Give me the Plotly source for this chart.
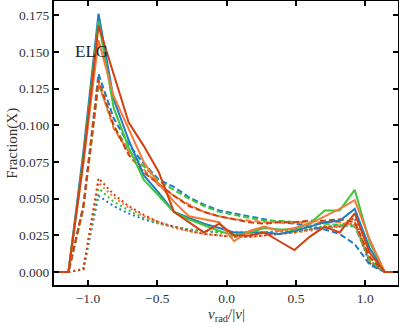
import plotly.graph_objects as go

# bin centres of v_rad/|v|
vr = [-1.25, -1.141, -1.033, -0.924, -0.815, -0.707, -0.598, -0.489, -0.380, -0.272, -0.163, -0.054,
      0.054, 0.163, 0.272, 0.380, 0.489, 0.598, 0.707, 0.815, 0.924, 1.033, 1.141, 1.25]

# solid lines
blue_solid = [0, 0, 0.082, 0.176, 0.118, 0.090, 0.066, 0.054, 0.041, 0.037, 0.033, 0.030,
              0.027, 0.027, 0.027, 0.026, 0.028, 0.031, 0.034, 0.035, 0.043, 0.016, 0, 0]
green_solid = [0, 0, 0.078, 0.171, 0.112, 0.085, 0.063, 0.052, 0.041, 0.036, 0.032, 0.028,
               0.025, 0.027, 0.030, 0.029, 0.029, 0.033, 0.042, 0.042, 0.056, 0.020, 0, 0]
orange_solid = [0, 0, 0.074, 0.158, 0.120, 0.097, 0.075, 0.060, 0.048, 0.038, 0.036, 0.034,
                0.021, 0.028, 0.031, 0.028, 0.030, 0.033, 0.038, 0.043, 0.049, 0.022, 0, 0]
red_solid = [0, 0, 0.076, 0.168, 0.135, 0.102, 0.086, 0.068, 0.041, 0.034, 0.027, 0.033,
             0.025, 0.025, 0.027, 0.021, 0.015, 0.024, 0.031, 0.027, 0.040, 0.013, 0, 0]

# dashed lines
blue_dash = [0, 0, 0.045, 0.135, 0.105, 0.087, 0.074, 0.063, 0.058, 0.051, 0.046, 0.042,
             0.040, 0.038, 0.036, 0.034, 0.033, 0.031, 0.029, 0.026, 0.019, 0.005, 0, 0]
green_dash = [0, 0, 0.043, 0.128, 0.100, 0.083, 0.072, 0.062, 0.056, 0.050, 0.045, 0.041,
              0.039, 0.037, 0.035, 0.035, 0.034, 0.033, 0.033, 0.032, 0.031, 0.008, 0, 0]
orange_dash = [0, 0, 0.044, 0.129, 0.098, 0.082, 0.070, 0.059, 0.052, 0.046, 0.041, 0.038,
               0.036, 0.035, 0.034, 0.034, 0.034, 0.034, 0.034, 0.034, 0.032, 0.010, 0, 0]
red_dash = [0, 0, 0.045, 0.131, 0.100, 0.080, 0.068, 0.060, 0.052, 0.045, 0.041, 0.038,
            0.036, 0.034, 0.033, 0.034, 0.034, 0.035, 0.035, 0.036, 0.034, 0.010, 0, 0]

# dotted lines
blue_dot = [0, 0, 0.002, 0.052, 0.045, 0.040, 0.036, 0.033, 0.031, 0.029, 0.028, 0.027,
            0.027, 0.027, 0.027, 0.028, 0.028, 0.029, 0.030, 0.031, 0.032, 0.006, 0, 0]
green_dot = [0, 0, 0.002, 0.057, 0.048, 0.042, 0.037, 0.033, 0.031, 0.029, 0.028, 0.027,
             0.027, 0.027, 0.027, 0.028, 0.028, 0.030, 0.031, 0.032, 0.033, 0.007, 0, 0]
orange_dot = [0, 0, 0.002, 0.061, 0.051, 0.044, 0.038, 0.034, 0.030, 0.028, 0.026, 0.025,
              0.024, 0.024, 0.025, 0.026, 0.027, 0.028, 0.030, 0.031, 0.034, 0.007, 0, 0]
red_dot = [0, 0, 0.002, 0.064, 0.053, 0.045, 0.039, 0.034, 0.031, 0.028, 0.026, 0.025,
           0.024, 0.024, 0.025, 0.026, 0.027, 0.029, 0.031, 0.031, 0.037, 0.006, 0, 0]

x_ticks = [-1.0, -0.5, 0.0, 0.5, 1.0]
x_ticktext = ["\u22121.0", "\u22120.5", "0.0", "0.5", "1.0"]
y_ticks = [0, 0.025, 0.05, 0.075, 0.1, 0.125, 0.15, 0.175]
y_ticktext = ["0.000", "0.025", "0.050", "0.075", "0.100", "0.125", "0.150", "0.175"]

colors = {"blue": "#1f7bc2", "green": "#3fc43a", "orange": "#f47a3c", "red": "#d2400f"}
series = [
    ("blue", blue_dot, "2px,3px"), ("green", green_dot, "2px,3px"),
    ("orange", orange_dot, "2px,3px"), ("red", red_dot, "2px,3px"),
    ("blue", blue_dash, "6px,3px"), ("green", green_dash, "6px,3px"),
    ("orange", orange_dash, "6px,3px"), ("red", red_dash, "6px,3px"),
    ("blue", blue_solid, "solid"), ("green", green_solid, "solid"),
    ("orange", orange_solid, "solid"), ("red", red_solid, "solid"),
]

fig = go.Figure()
for c, ys, dash in series:
    fig.add_trace(go.Scatter(x=vr, y=ys, mode="lines", showlegend=False,
                             line=dict(color=colors[c], width=2, dash=dash)))

font = "Liberation Serif, Times New Roman, serif"
fig.add_annotation(x=-0.975, y=0.1505, text="ELG", showarrow=False,
                   font=dict(size=17, color="#222"))
# axis titles placed by hand so margins stay fixed
fig.add_annotation(x=0.5, y=-0.104, xref="paper", yref="paper", showarrow=False,
                   xanchor="center", yanchor="middle",
                   text="<i>v</i><sub>rad</sub>/|<i>v</i>|", font=dict(size=15, color="#333"))
fig.add_annotation(x=-0.123, y=0.5, xref="paper", yref="paper", showarrow=False,
                   xanchor="center", yanchor="middle",
                   text="Fraction(X)", textangle=-90, font=dict(size=15, color="#333"))

axis_common = dict(showline=True, linecolor="black", linewidth=2, mirror="ticks",
                   ticks="inside", ticklen=5, tickwidth=1.5, tickcolor="black",
                   showgrid=False, zeroline=False, automargin=False,
                   tickfont=dict(size=13.5, color="#333"))
fig.update_xaxes(range=[-1.245, 1.236], tickvals=x_ticks, ticktext=x_ticktext, **axis_common)
fig.update_yaxes(range=[-0.0088, 0.1847], tickvals=y_ticks, ticktext=y_ticktext, **axis_common)
fig.update_layout(width=399, height=327, margin=dict(l=54, r=1, t=1, b=42),
                  plot_bgcolor="white", paper_bgcolor="white",
                  font=dict(family=font, color="#333"))

# drop the page margin so the figure sits at the window's corner
fix_page = ("document.body.style.margin='0';document.body.style.overflow='hidden';"
            "Plotly.relayout(document.getElementById('{plot_id}'), {width: 399, height: 327});")
fig.write_html("out.html", post_script=fix_page, config={"displayModeBar": False})
